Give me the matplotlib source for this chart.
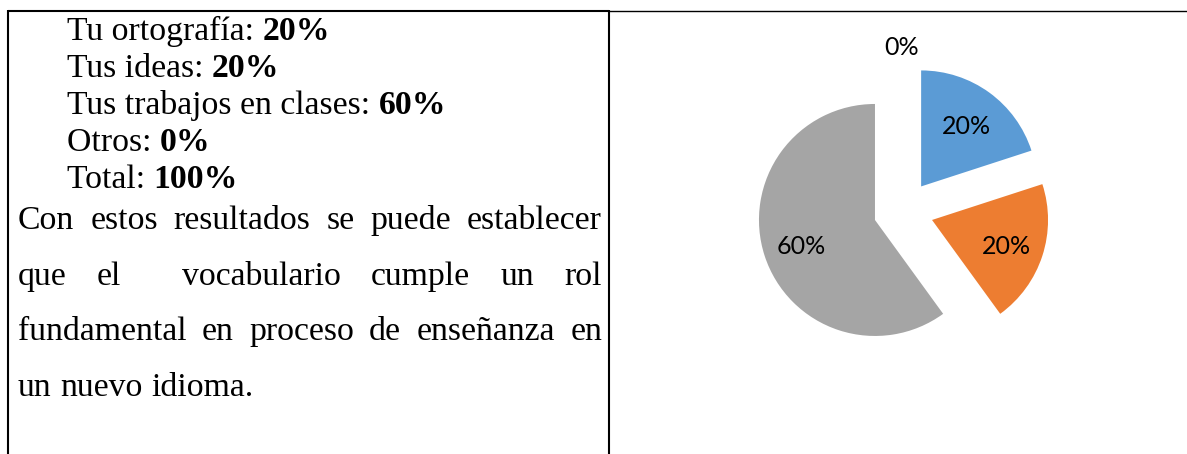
import matplotlib.pyplot as plt

# --- survey results ---
categories = ['Tu ortografía', 'Tus ideas', 'Tus trabajos en clases', 'Otros']
shares = [20, 20, 60, 0]
slice_colors = ['#5B9BD5', '#ED7D31', '#A5A5A5', '#FFC000']

summary_lines = [('Tu ortografía: ', '20%'),
                 ('Tus ideas: ', '20%'),
                 ('Tus trabajos en clases: ', '60%'),
                 ('Otros: ', '0%'),
                 ('Total: ', '100%')]

paragraph = ['Con estos resultados se puede establecer',
             'que el  vocabulario cumple un rol',
             'fundamental en proceso de enseñanza en',
             'un nuevo idioma.']

W, H = 1187, 454
SERIF = 'Liberation Serif'
TEXT_SIZE = 24.3

fig = plt.figure(figsize=(W / 100, H / 100), dpi=100)
page = fig.add_axes([0, 0, 1, 1])
page.set_xlim(0, W)
page.set_ylim(H, 0)
page.axis('off')
renderer = fig.canvas.get_renderer()


def width_of(t):
    return t.get_window_extent(renderer).width


# table borders
page.plot([8, 609], [11, 11], color='black', lw=1.5, solid_capstyle='butt')
page.plot([609, W], [11, 11], color='black', lw=1.0, solid_capstyle='butt')
page.plot([8.3, 8.3], [10.3, H], color='black', lw=1.5, solid_capstyle='butt')
page.plot([609.3, 609.3], [10.3, H], color='black', lw=1.5, solid_capstyle='butt')

# summary block: label in regular, value in bold
y = 40
for label, value in summary_lines:
    t = page.text(67, y, label, family=SERIF, fontsize=TEXT_SIZE, va='baseline')
    page.text(67 + width_of(t), y, value, family=SERIF, fontsize=TEXT_SIZE,
              fontweight='bold', va='baseline')
    y += 37

# justified paragraph
left, right = 18, 602
space_w = width_of(page.text(0, 0, 'a a', family=SERIF, fontsize=TEXT_SIZE, alpha=0)) \
    - width_of(page.text(0, 0, 'aa', family=SERIF, fontsize=TEXT_SIZE, alpha=0))
y = 229
for i, line in enumerate(paragraph):
    words = line.split(' ')
    texts = [page.text(0, y, w, family=SERIF, fontsize=TEXT_SIZE, va='baseline')
             for w in words]
    widths = [width_of(t) if w else 0 for t, w in zip(texts, words)]
    if i < len(paragraph) - 1:
        gap = (right - left - sum(widths)) / (len(words) - 1)
    else:
        gap = space_w
    x = left
    for t, w in zip(texts, widths):
        t.set_x(x)
        x += w + gap
    y += 55.7

# exploded pie chart
cx, cy, r, half = 903.5, 210.7, 116, 200
pie_ax = fig.add_axes([(cx - half) / W, (H - cy - half) / H, 2 * half / W, 2 * half / H])
explode = [30 / r] * len(shares)
wedges, texts, autotexts = pie_ax.pie(
    shares, colors=slice_colors, explode=explode, startangle=90,
    counterclock=False, autopct='%.0f%%', pctdistance=0.67, radius=1,
    wedgeprops=dict(linewidth=0),
    textprops=dict(family='Lato', fontsize=18, color='black'))
for val, at in zip(shares, autotexts):
    px, py = at.get_position()
    if val == 0:
        # the empty slice gets its label outside, above the pie
        at.set_position((-0.02, explode[0] + 1.145))
    else:
        at.set_position((px, py - 3 / r))
pie_ax.set_xlim(-half / r, half / r)
pie_ax.set_ylim(-half / r, half / r)
pie_ax.set_aspect('equal')
pie_ax.axis('off')

fig.savefig('out.png', dpi=100, facecolor='white')
